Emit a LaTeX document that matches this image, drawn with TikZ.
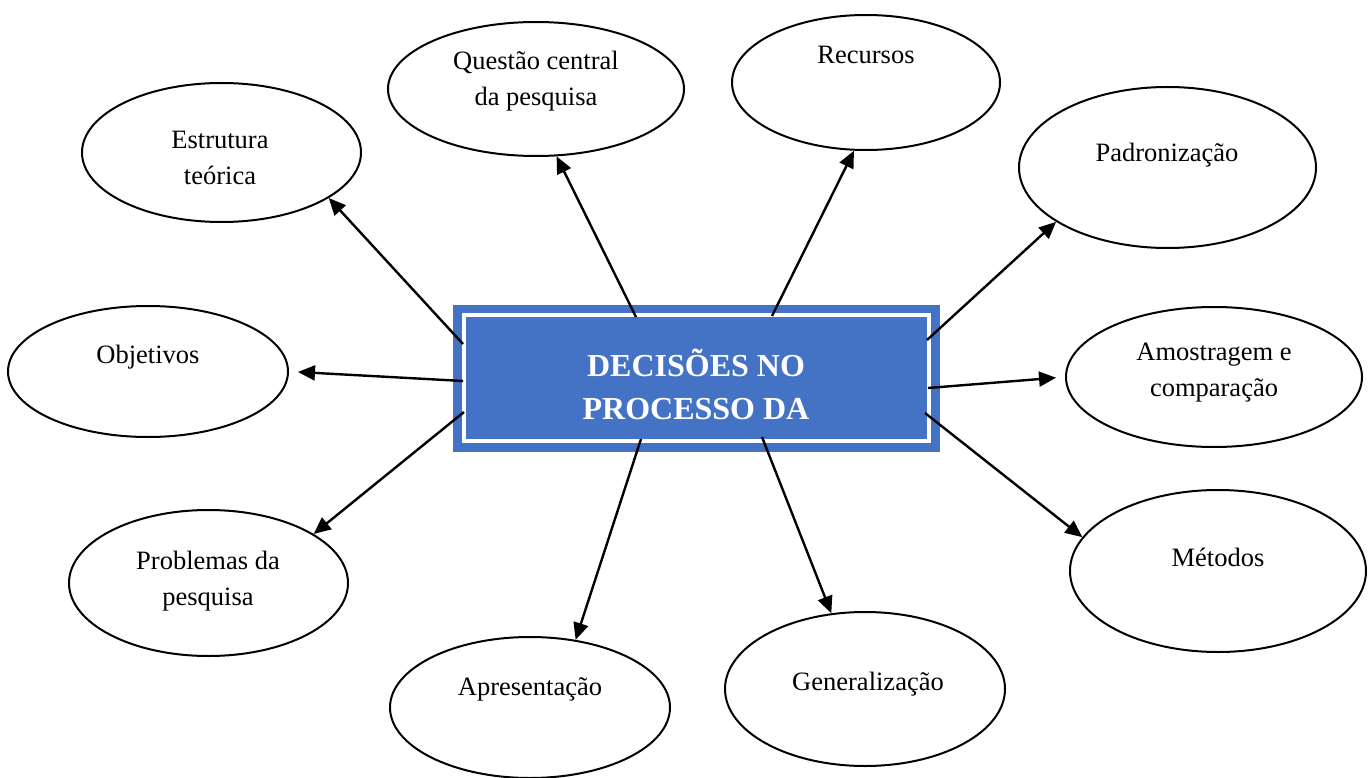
\documentclass[tikz,border=0pt]{standalone}
\usepackage{fontspec}
\setmainfont{Liberation Serif}
\usetikzlibrary{arrows.meta,shapes.geometric}
\definecolor{boxblue}{HTML}{4472C4}
\begin{document}
\begin{tikzpicture}[x=1pt,y=-1pt,
 ell/.style={draw=black, line width=2pt, ellipse, inner sep=0pt},
 lbl/.style={font=\fontsize{26.5}{36}\selectfont, align=center, inner sep=0pt},
 arr/.style={line width=2.4pt, -{Triangle[length=17pt,width=15pt]}},
]
\useasboundingbox (0,0) rectangle (1371,778);
\fill[white] (0,0) rectangle (1371,778);

% ellipses
\node[ell, minimum width=296pt, minimum height=134pt] (q) at (536,89) {};
\node[ell, minimum width=268pt, minimum height=135pt] (r) at (866,82.5) {};
\node[ell, minimum width=279pt, minimum height=139pt] (e) at (221.5,152.5) {};
\node[ell, minimum width=297pt, minimum height=161pt] (p) at (1167.5,167.5) {};
\node[ell, minimum width=280pt, minimum height=131pt] (o) at (148,371.5) {};
\node[ell, minimum width=296pt, minimum height=140pt] (a) at (1214,377) {};
\node[ell, minimum width=279pt, minimum height=146pt] (pr) at (208.5,583) {};
\node[ell, minimum width=296pt, minimum height=162pt] (m) at (1218,571) {};
\node[ell, minimum width=280pt, minimum height=141pt] (ap) at (530,707.5) {};
\node[ell, minimum width=280pt, minimum height=154pt] (g) at (865,689) {};

% labels
\node[lbl] (qt) at (536,81.5) {Questão central\\da pesquisa};
\node[lbl] (rt) at (866,55) {Recursos};
\node[lbl] (et) at (220,157.5) {Estrutura\\teórica};
\node[lbl] (pt) at (1167,155) {Padronização};
\node[lbl] (ot) at (148,357) {Objetivos};
\node[lbl] (at) at (1214,373) {Amostragem e\\comparação};
\node[lbl] (prt) at (208,581.5) {Problemas da\\pesquisa};
\node[lbl] (mt) at (1218,557) {Métodos};
\node[lbl] (apt) at (530,689) {Apresentação};
\node[lbl] (gt) at (868,684) {Generalização};

% central box
\node[fill=boxblue, minimum width=487pt, minimum height=147pt, inner sep=0pt] (box) at (696.5,378.5) {};
\node[draw=white, line width=4pt, minimum width=465pt, minimum height=126pt, inner sep=0pt] (inner) at (696.5,378) {};
\node[text=white, font=\bfseries\fontsize{32}{43}\selectfont, align=center, inner sep=0pt] (title) at (696,384.5) {DECISÕES NO\\PROCESSO DA};

% start points on the box
\coordinate (se) at (463,344);
\coordinate (sq) at (636,317);
\coordinate (sr) at (772,316);
\coordinate (sp) at (927,340);
\coordinate (so) at (463,381);
\coordinate (sa) at (928,388);
\coordinate (spr) at (464,412);
\coordinate (sap) at (641,439);
\coordinate (sg) at (762,437);
\coordinate (sm) at (925,413);

% arrows
\draw[arr] (se) -- (e.-23.5);
\draw[arr] (sq) -- (q.-73.1);
\draw[arr] (sr) -- (r.-100.7);
\draw[arr] (sp) -- (p.206.5);
\draw[arr, shorten >=9pt] (so) -- (o.east);
\draw[arr, shorten >=9pt] (sa) -- (a.west);
\draw[arr] (spr) -- (pr.25.4);
\draw[arr] (sap) -- (ap.56.7);
\draw[arr] (sg) -- (g.114.5);
\draw[arr] (sm) -- (m.166);
\end{tikzpicture}
\end{document}
